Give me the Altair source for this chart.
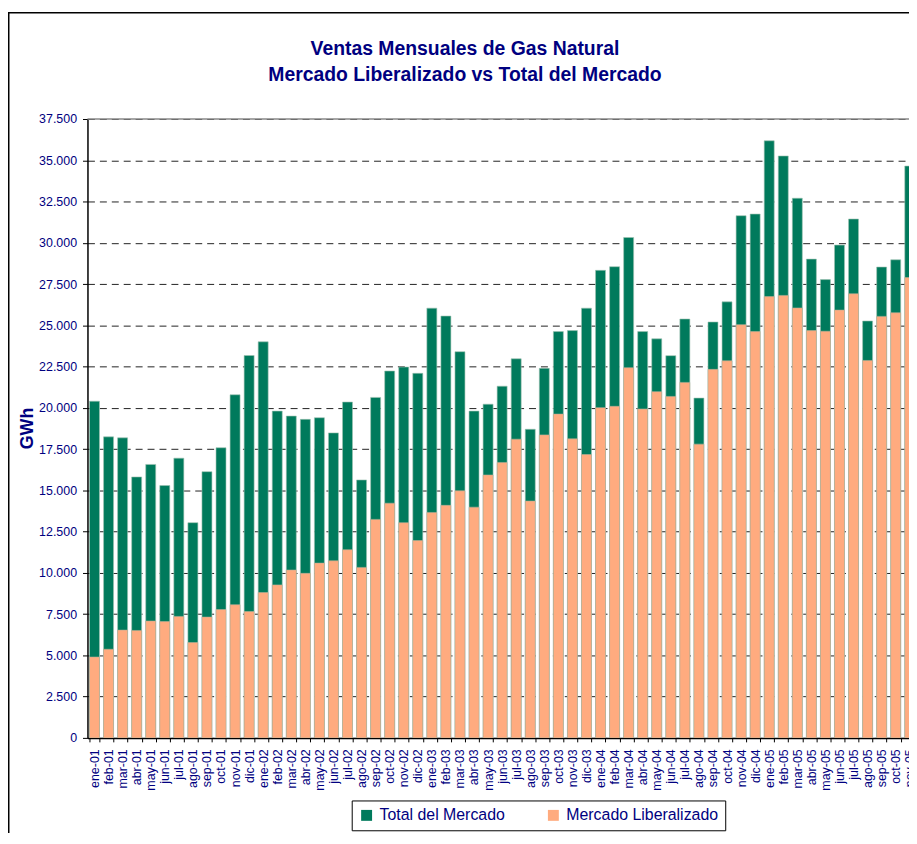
import altair as alt
import pandas as pd

# ---------------- data ----------------
meses = [
    "ene-01", "feb-01", "mar-01", "abr-01", "may-01", "jun-01", "jul-01", "ago-01", "sep-01", "oct-01", "nov-01", "dic-01",
    "ene-02", "feb-02", "mar-02", "abr-02", "may-02", "jun-02", "jul-02", "ago-02", "sep-02", "oct-02", "nov-02", "dic-02",
    "ene-03", "feb-03", "mar-03", "abr-03", "may-03", "jun-03", "jul-03", "ago-03", "sep-03", "oct-03", "nov-03", "dic-03",
    "ene-04", "feb-04", "mar-04", "abr-04", "may-04", "jun-04", "jul-04", "ago-04", "sep-04", "oct-04", "nov-04", "dic-04",
    "ene-05", "feb-05", "mar-05", "abr-05", "may-05", "jun-05", "jul-05", "ago-05", "sep-05", "oct-05", "nov-05",
]
# the category axis continues past the visible edge of the picture
meses_eje = meses + ["dic-05"]

total_mercado = [
    20400, 18240, 18180, 15810, 16570, 15290, 16950, 13040, 16130, 17580, 20790, 23170,
    24000, 19800, 19500, 19300, 19400, 18480, 20350, 15630, 20630, 22230, 22470, 22090,
    26040, 25560, 23400, 19800, 20220, 21310, 22970, 18700, 22390, 24620, 24680, 26040,
    28330, 28550, 30320, 24620, 24180, 23160, 25380, 20590, 25200, 26420, 31640, 31740,
    36180, 35260, 32700, 29010, 27770, 29860, 31440, 25260, 28530, 28970, 34650,
]
mercado_liberalizado = [
    4900, 5370, 6530, 6510, 7080, 7050, 7360, 5780, 7320, 7780, 8070, 7660,
    8810, 9270, 10170, 9970, 10590, 10730, 11400, 10330, 13240, 14220, 13040, 11960,
    13660, 14090, 14970, 13980, 15930, 16690, 18100, 14350, 18360, 19620, 18120, 17170,
    20010, 20090, 22430, 19930, 20980, 20690, 21540, 17800, 22330, 22850, 25040, 24620,
    26740, 26810, 26050, 24680, 24640, 25920, 26910, 22870, 25540, 25760, 27890,
]
serie_total = "Total del Mercado"
serie_lib = "Mercado Liberalizado"
titulo_1 = "Ventas Mensuales de Gas Natural"
titulo_2 = "Mercado Liberalizado vs Total del Mercado"
eje_y_titulo = "GWh"
y_ticks = list(range(0, 37501, 2500))

# ---------------- styling ----------------
FONT = "Liberation Sans"
NAVY = "#000080"
GREEN = "#007A5C"
SALMON = "#FFAB7F"
W = 827          # visible plot width (the rest is cut off by the page edge)
H = 623
STEP = 14.15
FULL_RANGE = STEP * len(meses_eje)

df = pd.DataFrame({
    "mes": meses * 2,
    "serie": [serie_total] * len(meses) + [serie_lib] * len(meses),
    "gwh": total_mercado + mercado_liberalizado,
})

x_enc = alt.X(
    "mes:N",
    scale=alt.Scale(domain=meses_eje, range=[0, FULL_RANGE], paddingInner=0.29,
                    paddingOuter=0.145, round=False),
    axis=alt.Axis(
        title=None, labelAngle=270, labelAlign="right", labelBaseline="middle",
        labelPadding=7, labelFont=FONT, labelFontSize=12.5, labelColor=NAVY,
        labelOverlap=False, tickBand="extent", tickSize=4, tickColor="black",
        domainColor="black", domainWidth=1.5, grid=False,
    ),
)
y_enc = alt.Y(
    "gwh:Q",
    scale=alt.Scale(domain=[0, 37500], nice=False),
    axis=alt.Axis(
        title=eje_y_titulo, titleFont=FONT, titleFontSize=18, titleFontWeight="bold",
        titleColor=NAVY, titleAngle=270, titleX=-60, titleY=311,
        titleAlign="center", titleBaseline="middle",
        values=y_ticks, labelExpr="replace(format(datum.value, ','), ',', '.')",
        labelFont=FONT, labelFontSize=12.5, labelColor=NAVY, labelPadding=6,
        tickSize=5, tickColor="black", domainColor="black", domainWidth=1.5,
        grid=True, gridDash=[7, 5], gridColor="#222222", gridWidth=1,
    ),
)
color_enc = alt.Color(
    "serie:N",
    scale=alt.Scale(domain=[serie_total, serie_lib], range=[GREEN, SALMON]),
    legend=alt.Legend(
        title=None, orient="none", legendX=266, legendY=686, direction="horizontal",
        strokeColor="black", fillColor="white", padding=7,
        labelFont=FONT, labelFontSize=16, labelColor=NAVY, labelOffset=5,
        symbolType="square", symbolSize=121, symbolStrokeWidth=0, columnPadding=40,
    ),
)

base = alt.Chart(df)
bars_total = base.transform_filter(alt.datum.serie == serie_total).mark_bar(
    clip=True, stroke="#9fc2b2", strokeWidth=0.6
).encode(x=x_enc, y=y_enc, color=color_enc)
bars_lib = base.transform_filter(alt.datum.serie == serie_lib).mark_bar(
    clip=True, stroke="#b4b09a", strokeWidth=0.6
).encode(x=x_enc, y=y_enc, color=color_enc)

one = pd.DataFrame({"k": [0]})
top_border = alt.Chart(one).mark_rule(color="#888888", strokeWidth=1.5).encode(
    x=alt.value(0), x2=alt.value(W), y=alt.value(0)
)
frame = alt.Chart(one).mark_rect(
    fillOpacity=0, stroke="black", strokeWidth=1.5, clip=False
).encode(x=alt.value(-79.25), x2=alt.value(900), y=alt.value(-107), y2=alt.value(800))

t1 = alt.Chart(pd.DataFrame({"t": [titulo_1]})).mark_text(
    font=FONT, fontSize=19.5, fontWeight="bold", color=NAVY, align="center", baseline="middle"
).encode(text="t:N", x=alt.value(380), y=alt.value(-70))
t2 = alt.Chart(pd.DataFrame({"t": [titulo_2]})).mark_text(
    font=FONT, fontSize=19.5, fontWeight="bold", color=NAVY, align="center", baseline="middle"
).encode(text="t:N", x=alt.value(380), y=alt.value(-44))

chart = alt.layer(bars_total, bars_lib, top_border, frame, t1, t2).properties(
    width=W, height=H,
    autosize=alt.AutoSizeParams(type="none"),
    padding={"left": 80, "top": 109, "right": 0, "bottom": 93},
    background="white",
).configure_view(stroke=None)

chart.save("out.html", embed_options={"renderer": "svg", "actions": False})
